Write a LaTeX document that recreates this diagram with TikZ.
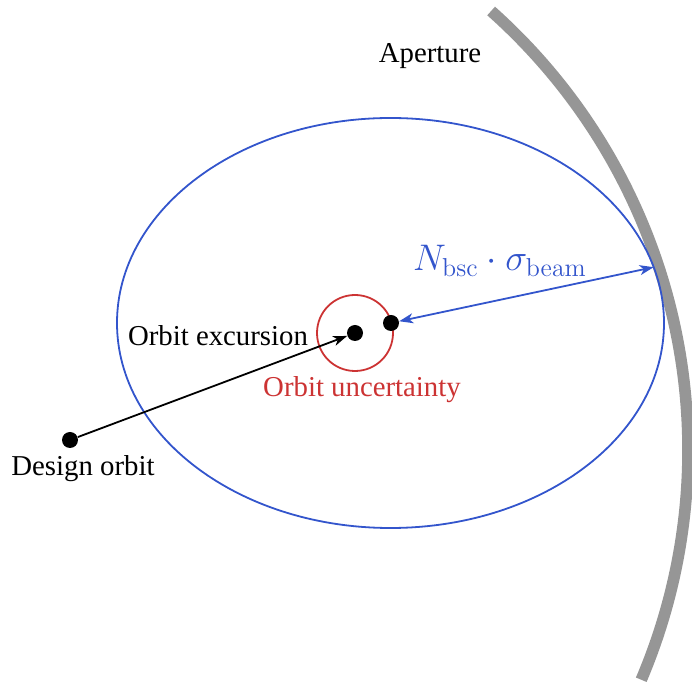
\RequirePackage{fix-cm}
\documentclass[tikz,border=0pt]{standalone}
\usepackage[no-math]{fontspec}
\setmainfont{Liberation Serif}
\usepackage{tikz}
\usetikzlibrary{arrows, arrows.meta, positioning, calc}
\definecolor{apblue}{RGB}{51,85,204}
\definecolor{apred}{RGB}{204,51,51}
\definecolor{apgray}{RGB}{150,150,150}

\begin{document}
\begin{tikzpicture}[
        x=0.5pt, y=0.5pt,
        dot/.style={circle, fill=black, minimum size=8pt, inner sep=0pt},
        txt/.style={font=\fontsize{14.4}{17}\selectfont, inner sep=1pt},
        arrow/.style={->, >={Stealth[length=7pt, width=5pt, inset=2pt]}, line width=0.9pt}
    ]
        \useasboundingbox (0,0) rectangle (692,686);
        % aperture wall
        \draw[apgray, line width=5.8pt] (100,236) ++(48.3:294pt) arc[start angle=48.3, end angle=-23, radius=294pt];
        % beam envelope and orbit uncertainty
        \coordinate (beamc) at (390.5,363);
        \draw[apblue, line width=0.9pt] (beamc) ellipse [x radius=136.75pt, y radius=102.5pt];
        \node[circle, draw=apred, line width=0.9pt, minimum size=38pt, inner sep=0pt] (unc) at (355,353) {};
        \node[dot] (exc) at (355,353) {};
        \node[dot] (beam) at (391,363) {};
        \node[dot] (design) at (70,246) {};
        \coordinate (edge) at ($(beamc)+(15.8:136.75pt and 102.5pt)$);

        \draw[arrow] (design) -- (exc);
        \draw[arrow, <->, apblue] (beam) -- (edge);

        \node[txt] (aplabel) at (430,630) {Aperture};
        \node[txt] (designlabel) at (83,217) {Design orbit};
        \node[txt] (exclabel) at (218,350) {Orbit excursion};
        \node[txt, apred] (unclabel) at (362,296) {Orbit uncertainty};
        \node[txt, apblue, font=\fontsize{18.5}{21}\selectfont] (bsclabel) at (500,425) {$N_{\mathrm{bsc}}\cdot\sigma_{\mathrm{beam}}$};
    \end{tikzpicture}
\end{document}
